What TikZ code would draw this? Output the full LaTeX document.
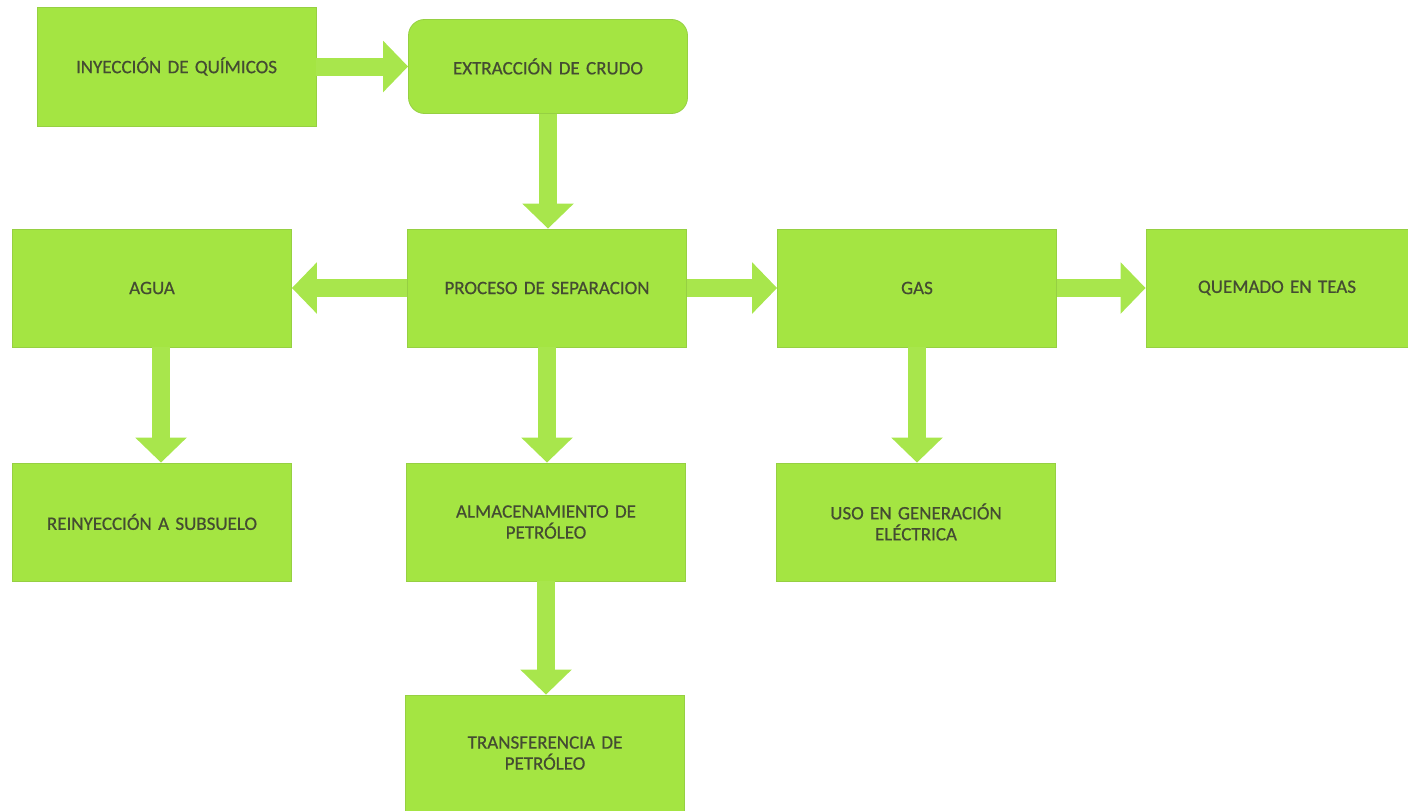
\documentclass[tikz,border=0pt]{standalone}
\usepackage{fontspec}
\newfontfamily\lblfont{Carlito}[FakeBold=0.6,WordSpace=0.75]
\usetikzlibrary{arrows.meta,calc}
\definecolor{boxgreen}{RGB}{164,229,66}
\definecolor{boxedge}{RGB}{150,208,66}
\definecolor{arrgreen}{RGB}{168,230,76}
\definecolor{txt}{RGB}{68,76,50}
\tikzset{
  box/.style={fill=boxgreen, draw=boxedge, line width=0.8pt, minimum width=279pt, minimum height=118pt,
    inner sep=0pt, text width=250pt, align=center, text=txt,
    font=\lblfont\fontsize{19}{21}\selectfont},
  flow/.style={draw=arrgreen, line width=18pt,
    -{Triangle[width=50pt,length=25pt]}},
}
\begin{document}
\begin{tikzpicture}[x=1pt,y=-1pt]
\useasboundingbox (0,0) rectangle (1408,811);
\node[box, minimum height=119pt] (iny) at (176.5,66.5) {INYECCIÓN DE QUÍMICOS};
\node[box, minimum height=94pt, rounded corners=16pt] (ext) at (548,66.5) {EXTRACCIÓN DE CRUDO};
\node[box] (agua) at (152,288) {AGUA};
\node[box] (proc) at (547,288) {PROCESO DE SEPARACION};
\node[box] (gas) at (917,288) {GAS};
\node[box, minimum width=262pt] (quem) at (1277,288) {QUEMADO EN TEAS};
\node[box] (rein) at (152,522) {REINYECCIÓN A SUBSUELO};
\node[box] (alm) at (546,522) {ALMACENAMIENTO DE\\PETRÓLEO};
\node[box] (uso) at (916,522) {USO EN GENERACIÓN\\ELÉCTRICA};
\node[box, minimum height=116pt] (trans) at (545,753) {TRANSFERENCIA DE\\PETRÓLEO};

\draw[flow] (iny.east) -- (ext.west);
\draw[flow] (ext.south) -- (ext.south |- proc.north);
\draw[flow] (proc.west) -- (agua.east);
\draw[flow] (proc.east) -- (gas.west);
\draw[flow] (gas.east) -- (quem.west);
\draw[flow] ([xshift=9pt]agua.south) -- ([xshift=9pt]rein.north);
\draw[flow] (proc.south) -- (proc.south |- alm.north);
\draw[flow] (gas.south) -- (gas.south |- uso.north);
\draw[flow] (alm.south) -- (alm.south |- trans.north);
\end{tikzpicture}
\end{document}
